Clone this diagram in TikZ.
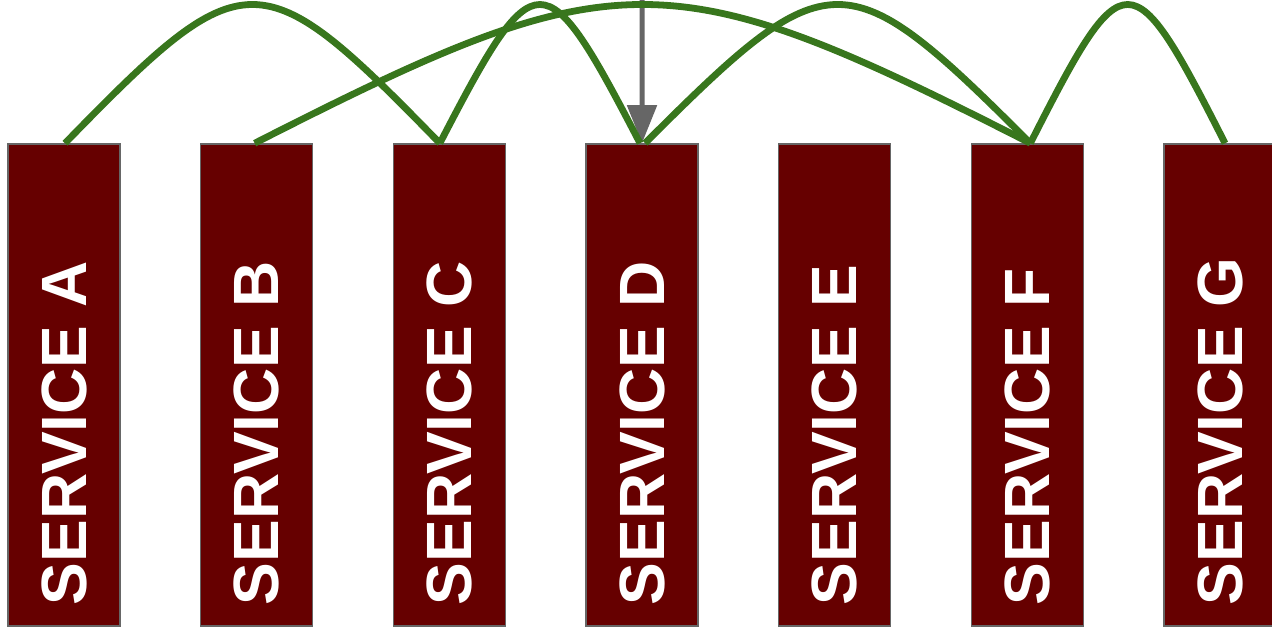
\documentclass[tikz,border=0pt]{standalone}
\usepackage{fontspec}
\setmainfont{Liberation Sans}
\usepackage{tikz}
\usetikzlibrary{positioning,arrows.meta}

\definecolor{svcred}{HTML}{660000}
\definecolor{svcgray}{HTML}{666666}
\definecolor{linkgreen}{HTML}{38761D}

\begin{document}
\begin{tikzpicture}[%
		x=0.5pt,
		y=-0.5pt,
		svc/.style={%
			rectangle,
			fill=svcred,
			draw=svcgray,
			line width=0.75pt,
			minimum width=56pt,
			minimum height=241pt,
			inner sep=0pt
		},
		svctext/.style={%
			rotate=90,
			anchor=west,
			inner sep=0pt,
			text=white,
			font=\fontsize{32}{32}\selectfont\bfseries
		},
		link/.style={%
			draw=linkgreen,
			line width=3.4pt
		},
		call/.style={%
			draw=svcgray,
			line width=2.5pt,
			-{Triangle[length=19pt,width=14.5pt]}
		}
		]
		\useasboundingbox (0,0) rectangle (1272,630);
		
		% services
		\foreach \n [count=\i from 0] in {A,B,C,D,E,F,G} {
			\node[svc] (\n) at ({64+192.67*\i},385) {};
			\node[svctext] (\n-text) at ([yshift=10.5pt]\n.south) {SERVICE \n};
		}
		
		% incoming request
		\coordinate (client) at (642,0);
		\draw[call] (client) -- (D.north);
		
		% calls between services
		\draw[link] ([xshift=0.5pt]A.north) .. controls +(180,-185) and +(-180,-185) .. ([xshift=-4.75pt]C.north);
		\draw[link] ([xshift=-1pt]B.north) .. controls +(363,-185) and +(-363,-185) .. ([xshift=1.5pt]F.north);
		\draw[link] ([xshift=-4.75pt]C.north) .. controls +(96,-185) and +(-96,-185) .. ([xshift=-1pt]D.north);
		\draw[link] ([xshift=1.5pt]D.north) .. controls +(185,-185) and +(-185,-185) .. ([xshift=1.5pt]F.north);
		\draw[link] ([xshift=1.5pt]F.north) .. controls +(94,-185) and +(-94,-185) .. ([xshift=2.5pt]G.north);
		\end{tikzpicture}
\end{document}
